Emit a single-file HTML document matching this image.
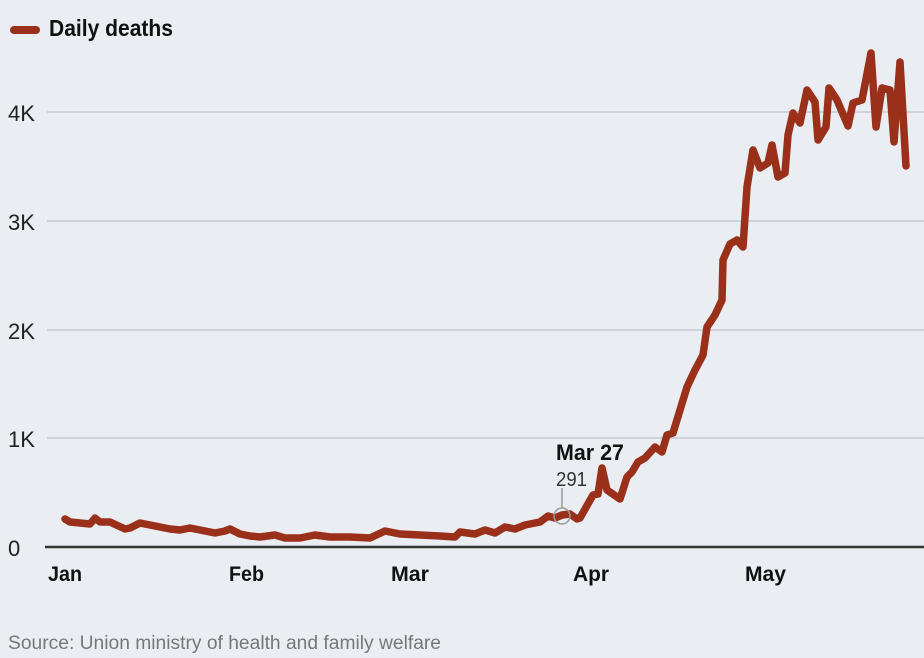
<!DOCTYPE html>
<html><head><meta charset="utf-8"><style>
body{margin:0;background:#eaedf2;}
svg{display:block;font-family:"Liberation Sans Narrow","Liberation Sans",sans-serif;}
</style></head><body>
<svg width="924" height="658" viewBox="0 0 924 658">
<rect width="924" height="658" fill="#eaedf2"/>
<g stroke="#cfd2d8" stroke-width="2">
<line x1="47" y1="112" x2="924" y2="112"/>
<line x1="47" y1="221" x2="924" y2="221"/>
<line x1="47" y1="330" x2="924" y2="330"/>
<line x1="47" y1="438" x2="924" y2="438"/>
</g>
<g font-size="22" fill="#222">
<text x="8" y="121" textLength="27" lengthAdjust="spacingAndGlyphs">4K</text>
<text x="8" y="230" textLength="27" lengthAdjust="spacingAndGlyphs">3K</text>
<text x="8" y="339" textLength="27" lengthAdjust="spacingAndGlyphs">2K</text>
<text x="8" y="447" textLength="27" lengthAdjust="spacingAndGlyphs">1K</text>
<text x="8" y="556">0</text>
</g>
<line x1="45" y1="547" x2="924" y2="547" stroke="#333" stroke-width="2.5"/>
<g font-size="21" font-weight="bold" fill="#111">
<text x="48" y="581" textLength="34" lengthAdjust="spacingAndGlyphs">Jan</text>
<text x="229" y="581" textLength="35" lengthAdjust="spacingAndGlyphs">Feb</text>
<text x="391" y="581" textLength="38" lengthAdjust="spacingAndGlyphs">Mar</text>
<text x="573" y="581" textLength="36" lengthAdjust="spacingAndGlyphs">Apr</text>
<text x="745" y="581" textLength="41" lengthAdjust="spacingAndGlyphs">May</text>
</g>
<rect x="10" y="26" width="30" height="8" rx="4" fill="#9a3019"/>
<text x="49" y="36" font-size="23" font-weight="bold" fill="#111" textLength="124" lengthAdjust="spacingAndGlyphs">Daily deaths</text>
<line x1="562" y1="488" x2="562" y2="508" stroke="#999" stroke-width="1.5"/>
<polyline fill="none" stroke="#9a3019" stroke-width="7.5" stroke-linejoin="round" stroke-linecap="round" points="65,519 70,522 90,524 95,518 100,522 110,522 125,529 130,528 140,523 160,527 170,529 180,530 190,528 200,530 215,533 225,531 230,529 240,534 250,536 260,537 275,535 285,538 300,538 315,535 330,537 350,537 370,538 385,531 400,534 420,535 440,536 455,537 460,532 475,534 485,530 495,533 505,527 515,529 525,525 540,522 548,516 555,518 562,515 570,514 577,519 580,518 593,495 598,494 602,468 607,490 620,499 627,477 632,472 638,462 645,458 655,447 662,452 667,435 673,433 687,387 695,370 703,355 707,327 715,315 722,300 723,260 730,244 737,240 743,247 747,187 753,150 760,168 768,163 772,145 778,177 785,173 788,135 793,113 800,123 807,90 815,102 818,140 826,127 829,88 837,100 848,126 853,103 862,100 871,53 876,127 882,88 890,90 894,142 900,62 906,166"/>
<circle cx="562" cy="516" r="8" fill="none" stroke="#999" stroke-width="1.5"/>
<text x="556" y="460" font-size="22" font-weight="bold" fill="#111" textLength="68" lengthAdjust="spacingAndGlyphs">Mar 27</text>
<text x="556" y="486" font-size="20" fill="#333" textLength="31" lengthAdjust="spacingAndGlyphs">291</text>
<text x="8" y="649" font-size="19" fill="#777" textLength="433" lengthAdjust="spacingAndGlyphs">Source: Union ministry of health and family welfare</text>
</svg>
</body></html>
